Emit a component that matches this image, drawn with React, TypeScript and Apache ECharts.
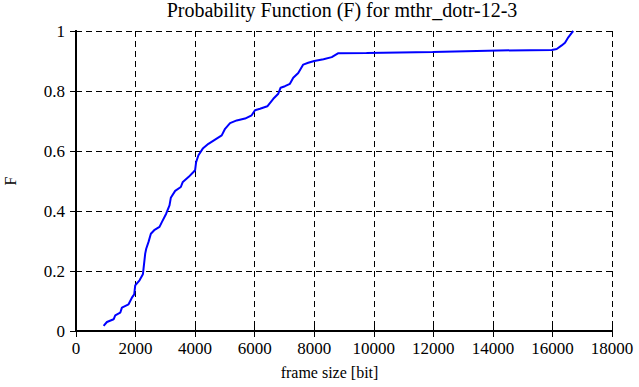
import React, { useEffect, useRef } from "react";
import * as echarts from "echarts";

const titleText = "Probability Function (F) for mthr_dotr-12-3";
const xName = "frame size [bit]";
const yName = "F";

const frameSizes = [
  927, 1039, 1263, 1318, 1486, 1542, 1765, 1877, 1955, 1989, 2134, 2246, 2268,
  2324, 2358, 2436, 2514, 2626, 2804, 2883, 3028, 3140, 3184, 3330, 3520, 3587,
  3777, 3944, 4000, 4034, 4112, 4257, 4447, 4670, 4894, 5006, 5173, 5397, 5676,
  5899, 6011, 6179, 6425, 6626, 6793, 6872, 7017, 7184, 7296, 7464, 7631, 7799,
  8000, 8311, 8589, 8811, 9756, 11978, 14200, 15978, 16144, 16311, 16422, 16533,
  16667, 16700,
];
const probabilities = [
  0.017, 0.03, 0.039, 0.052, 0.061, 0.078, 0.089, 0.111, 0.122, 0.152, 0.169,
  0.189, 0.208, 0.258, 0.274, 0.297, 0.324, 0.336, 0.347, 0.363, 0.391, 0.419,
  0.444, 0.467, 0.48, 0.497, 0.513, 0.53, 0.536, 0.563, 0.586, 0.608, 0.624,
  0.638, 0.652, 0.674, 0.693, 0.702, 0.708, 0.719, 0.736, 0.741, 0.749, 0.774,
  0.791, 0.811, 0.816, 0.824, 0.844, 0.86, 0.888, 0.894, 0.9, 0.906, 0.913,
  0.926, 0.927, 0.93, 0.935, 0.937, 0.94, 0.952, 0.961, 0.979, 0.996, 1.0,
];

const FONT = "'Liberation Serif', 'DejaVu Serif', serif";

export default function App() {
  const ref = useRef<HTMLDivElement>(null);
  useEffect(() => {
    document.body.style.margin = "0";
    if (!ref.current) return;
    const chart = echarts.init(ref.current, undefined, { renderer: "svg" });
    const data = frameSizes.map((x, i) => [x, probabilities[i]]);
    const axisLine = { show: true, lineStyle: { color: "#000", width: 2 } };
    const tick = { show: true, inside: true, length: 6, lineStyle: { color: "#000", width: 1 } };
    const split = { show: true, lineStyle: { color: "#000", width: 1, type: [6, 4] as any } };
    chart.setOption({
      animation: false,
      backgroundColor: "#fff",
      textStyle: { fontFamily: FONT },
      title: {
        text: titleText,
        left: 342,
        textAlign: "center",
        top: 0,
        padding: 0,
        textStyle: { fontFamily: FONT, fontSize: 20, fontWeight: "normal", color: "#000" },
      },
      grid: {
        left: 76,
        right: 27,
        top: 31,
        bottom: 56,
        containLabel: false,
        outerBoundsMode: "none",
      } as any,
      xAxis: [
        {
          type: "value",
          min: 0,
          max: 18000,
          interval: 2000,
          name: xName,
          nameLocation: "middle",
          nameGap: 33,
          nameTextStyle: { fontFamily: FONT, fontSize: 16, color: "#000", padding: [0, 29, 0, 0] },
          axisLine,
          axisTick: tick,
          splitLine: split,
          axisLabel: {
            fontFamily: FONT,
            fontSize: 17,
            color: "#000",
            margin: 9,
            formatter: (v: number) => String(v),
          },
        },
        {
          type: "value",
          position: "top",
          min: 0,
          max: 18000,
          interval: 2000,
          axisLine,
          axisTick: tick,
          splitLine: { show: false },
          axisLabel: { show: false },
        },
      ],
      yAxis: [
        {
          type: "value",
          min: 0,
          max: 1,
          interval: 0.2,
          name: yName,
          nameLocation: "middle",
          nameGap: 58,
          nameTextStyle: { fontFamily: FONT, fontSize: 16, color: "#000" },
          axisLine,
          axisTick: tick,
          splitLine: split,
          axisLabel: {
            fontFamily: FONT,
            fontSize: 17,
            color: "#000",
            margin: 11,
            formatter: (v: number) => String(Math.round(v * 10) / 10),
          },
        },
        {
          type: "value",
          position: "right",
          min: 0,
          max: 1,
          interval: 0.2,
          axisLine,
          axisTick: tick,
          splitLine: { show: false },
          axisLabel: { show: false },
        },
      ],
      series: [
        {
          type: "line",
          data,
          showSymbol: false,
          symbol: "none",
          lineStyle: { color: "#0000ff", width: 2 },
          itemStyle: { color: "#0000ff" },
          xAxisIndex: 0,
          yAxisIndex: 0,
        },
      ],
    });
    return () => chart.dispose();
  }, []);
  return <div ref={ref} style={{ width: 639, height: 387 }} />;
}
